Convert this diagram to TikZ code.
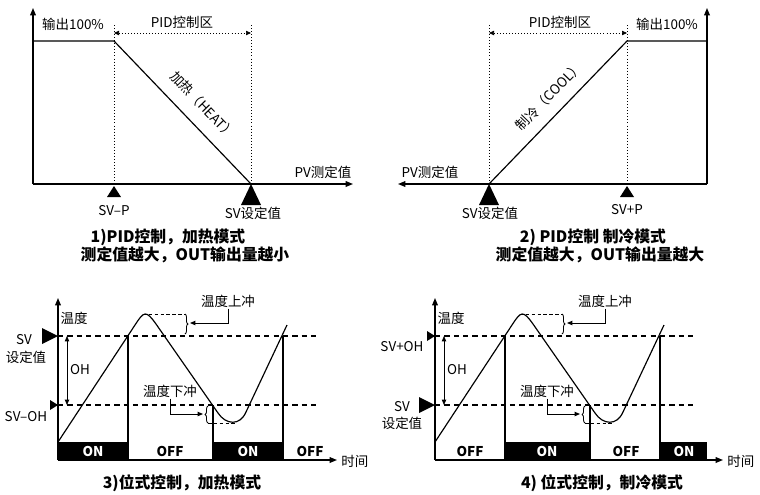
\documentclass[tikz,border=0pt]{standalone}
\usepackage{fontspec}
\setmainfont{Noto Sans CJK SC}
\usetikzlibrary{arrows.meta,decorations.pathreplacing}

\begin{document}
\begin{tikzpicture}[x=0.03cm,y=-0.03cm,
    lbl/.style={font=\fontsize{11.5}{13}\selectfont,inner sep=1pt},
    captxt/.style={font=\fontsize{13.5}{16}\selectfont\bfseries,inner sep=1pt},
    bartxt/.style={font=\fontsize{11.5}{13}\selectfont\bfseries,inner sep=0pt},
    axisarr/.style={line width=1.1pt,-{Triangle[length=2.2mm,width=1.7mm]}},
    guide/.style={line width=0.6pt,dotted},
    spanarr/.style={guide,{Triangle[length=1.5mm,width=1.3mm]}-{Triangle[length=1.5mm,width=1.3mm]}},
    lvlline/.style={line width=0.9pt,dash pattern=on 4.5pt off 3.5pt},
    smalldash/.style={line width=0.7pt,dash pattern=on 3pt off 2pt},
    crv/.style={line width=1pt},
    ptr/.style={line width=0.8pt,-{Triangle[length=1.6mm,width=1.3mm]}},
    ohline/.style={line width=0.7pt,{Triangle[length=1.6mm,width=1.3mm]}-{Triangle[length=1.6mm,width=1.3mm]}},
    brc/.style={line width=0.7pt,decorate,decoration={brace,amplitude=2.5pt}}
  ]
  \useasboundingbox (0,0) rectangle (760,494);

  % 1) PID heating
  \draw[axisarr] (33,184) -- (353,184);
  \draw[axisarr] (33,184) -- (33,8);
  \draw[crv] (33,41) -- (114,41) -- (251,184);
  \draw[guide] (114,25) -- (114,184);
  \draw[guide] (251,25) -- (251,184);
  \draw[spanarr] (114,33) -- (251,33);
  \fill (114,186) -- (107,197) -- (121,197) -- cycle;
  \fill (251,184) -- (241,205) -- (261,205) -- cycle;
  \node[lbl] (out1) at (73,24) {输出100\%};
  \node[lbl] (zone1) at (182,22) {PID控制区};
  \node[lbl] (pv1) at (323,172) {PV测定值};
  \node[lbl] (svp1) at (114,211) {SV\textendash P};
  \node[lbl] (sv1) at (253,213) {SV设定值};
  \node[lbl,rotate=-46] (heat) at (203,105) {加热（HEAT）};
  \node[captxt] (cap1a) at (168,237) {1)PID控制，加热模式};
  \node[captxt] (cap1b) at (185,255) {测定值越大，OUT输出量越小};

  % 2) PID cooling
  \draw[axisarr] (707,184) -- (398,184);
  \draw[axisarr] (707,184) -- (707,8);
  \draw[crv] (707,41) -- (627,41) -- (489,184);
  \draw[guide] (489,25) -- (489,184);
  \draw[guide] (627,25) -- (627,184);
  \draw[spanarr] (489,33) -- (627,33);
  \fill (489,184) -- (479,205) -- (499,205) -- cycle;
  \fill (627,186) -- (620,197) -- (634,197) -- cycle;
  \node[lbl] (out2) at (667,24) {输出100\%};
  \node[lbl] (zone2) at (560,22) {PID控制区};
  \node[lbl] (pv2) at (430,172) {PV测定值};
  \node[lbl] (svp2) at (627,210) {SV+P};
  \node[lbl] (sv2) at (490,213) {SV设定值};
  \node[lbl,rotate=46] (cool) at (549,96) {制冷（COOL）};
  \node[captxt] (cap2a) at (593,237) {2) PID控制 制冷模式};
  \node[captxt] (cap2b) at (600,255) {测定值越大，OUT输出量越大};

  % 3) / 4) on-off control, shared part
  \foreach \dx/\n/\xe in {0/3/337,377/4/346} {
    \begin{scope}[shift={(\dx,0)}]
      \draw[axisarr] (58,460) -- (\xe,460);
      \draw[axisarr] (58,460) -- (58,298);
      \node[lbl,anchor=west] (time\n) at (\xe+3,461) {时间};
      \node[lbl] (temp\n) at (74,318) {温度};
      \draw[lvlline] (58,336) -- (320,336);
      \draw[lvlline] (58,405) -- (320,405);
      \draw[line width=0.9pt] (128,336) -- (128,460);
      \draw[line width=0.9pt] (213,405) -- (213,460);
      \draw[line width=0.9pt] (283,336) -- (283,460);
      \draw[crv] (58,442) -- (135,325) .. controls (144,311) and (146,310) .. (156,324)
        -- (218,413) .. controls (226,425) and (240,426) .. (246,412) -- (287,325);
      \draw[ohline] (67,336) -- (67,405);
      \node[lbl] (oh\n) at (80,370) {OH};
      \draw[smalldash] (143,314) -- (185,314);
      \draw[brc] (185,314) -- (185,334);
      \draw[smalldash] (208,423) -- (235,423);
      \draw[brc] (208,423) -- (208,406);
      \node[lbl] (up\n) at (228,301) {温度上冲};
      \coordinate (uptip\n) at (190,323);
      \draw[ptr] (up\n.south) |- (uptip\n);
      \node[lbl] (dn\n) at (170,391) {温度下冲};
      \coordinate (dntip\n) at (203,414);
      \draw[ptr] (dn\n.south) |- (dntip\n);
    \end{scope}
  }

  % 3) heating
  \fill (58,442) rectangle (128,460);
  \fill (213,442) rectangle (283,460);
  \node[bartxt,white] (on3a) at (93,451) {ON};
  \node[bartxt] (off3a) at (170,451) {OFF};
  \node[bartxt,white] (on3b) at (248,451) {ON};
  \node[bartxt] (off3b) at (310,451) {OFF};
  \fill (58,336) -- (42,328) -- (42,344) -- cycle;
  \fill (58,405) -- (50,400) -- (50,410) -- cycle;
  \node[lbl] (sv3) at (24,340) {SV};
  \node[lbl] (svset3) at (26,357) {设定值};
  \node[lbl] (svoh3) at (26,417) {SV\textendash OH};
  \node[captxt] (cap3) at (182,483) {3)位式控制，加热模式};

  % 4) cooling
  \fill (505,442) rectangle (590,460);
  \fill (660,442) rectangle (707,460);
  \node[bartxt] (off4a) at (470,451) {OFF};
  \node[bartxt,white] (on4a) at (547,451) {ON};
  \node[bartxt] (off4b) at (626,451) {OFF};
  \node[bartxt,white] (on4b) at (684,451) {ON};
  \fill (435,336) -- (427,331) -- (427,341) -- cycle;
  \fill (435,405) -- (419,397) -- (419,413) -- cycle;
  \node[lbl] (svoh4) at (402,347) {SV+OH};
  \node[lbl] (sv4) at (402,407) {SV};
  \node[lbl] (svset4) at (402,423) {设定值};
  \node[captxt] (cap4) at (602,483) {4) 位式控制，制冷模式};
\end{tikzpicture}
\end{document}
